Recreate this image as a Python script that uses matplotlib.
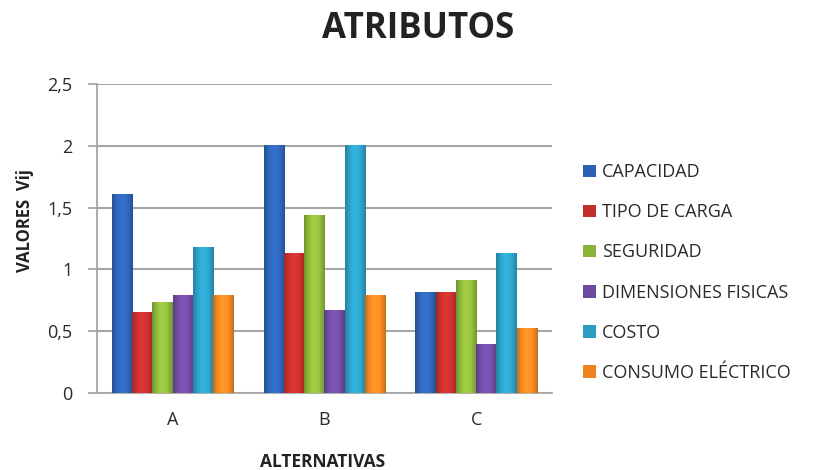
import numpy as np
import matplotlib.pyplot as plt
from matplotlib.colors import to_rgb

plt.rcParams['font.family'] = ['Open Sans', 'DejaVu Sans']

alternativas = ['A', 'B', 'C']
series = ['CAPACIDAD', 'TIPO DE CARGA', 'SEGURIDAD', 'DIMENSIONES FISICAS',
          'COSTO', 'CONSUMO ELÉCTRICO']
capacidad = [1.61, 2.0, 0.81]
tipo_carga = [0.65, 1.13, 0.81]
seguridad = [0.73, 1.44, 0.91]
dimensiones = [0.79, 0.67, 0.39]
costo = [1.18, 2.0, 1.13]
consumo = [0.79, 0.79, 0.52]
colores = ['#2d62b3', '#c1302c', '#8bb33a', '#6e4a9e', '#2c9cc2', '#ec8420']

valores = [capacidad, tipo_carga, seguridad, dimensiones, costo, consumo]

fig = plt.figure(figsize=(8.34, 4.70), dpi=100)
ax = fig.add_axes([0.116, 0.164, 0.546, 0.657])

x = np.arange(len(alternativas))
n = len(series)
ancho = 0.8 / n

def shade(color):
    # horizontal gradient to give the bars a cylinder look
    c = np.array(to_rgb(color))
    t = np.linspace(0, 1, 64)
    k = 0.55 + 0.6 * np.sin(np.pi * (0.15 + 0.7 * t))
    k = np.clip(k, 0, 1.15)
    rgb = np.clip(c[None, :] * k[:, None], 0, 1)
    return rgb[None, :, :]

for i, (nombre, vals, col) in enumerate(zip(series, valores, colores)):
    pos = x - 0.4 + ancho * (i + 0.5)
    bars = ax.bar(pos, vals, width=ancho, color=col, label=nombre,
                  edgecolor='none', zorder=3)
    for b in bars:
        x0, w, h = b.get_x(), b.get_width(), b.get_height()
        ax.imshow(shade(col), extent=[x0, x0 + w, 0, h], aspect='auto',
                  zorder=4, interpolation='bilinear')

ax.set_xlim(-0.5, 2.5)
ax.set_ylim(0, 2.5)
ax.set_yticks([0, 0.5, 1, 1.5, 2, 2.5])
ax.set_yticklabels(['0', '0,5', '1', '1,5', '2', '2,5'])
ax.set_xticks(x)
ax.set_xticklabels(alternativas)
ax.tick_params(axis='both', labelsize=13, colors='#2a2a2a')
ax.tick_params(axis='x', length=0, pad=13)
ax.tick_params(axis='y', length=6.5, color='#a0a0a0', width=1.2, pad=11)

ax.grid(axis='y', color='#a6a6a6', linewidth=1.5, zorder=0)
ax.set_axisbelow(True)
for s in ['top', 'right']:
    ax.spines[s].set_visible(False)
ax.spines['left'].set_color('#a6a6a6')
ax.spines['left'].set_linewidth(1.3)
ax.spines['bottom'].set_color('#a6a6a6')
ax.spines['bottom'].set_linewidth(1.3)

fig.text(0.030, 1 - 221 / 470, 'VALORES  Vij', rotation=90, ha='center',
         va='center', fontsize=12, fontweight='bold', color='#222222')
fig.text(323 / 834, 1 - 462 / 470, 'ALTERNATIVAS', ha='center', va='center',
         fontsize=12.5, fontweight='bold', color='#222222')
fig.text(418 / 834, 1 - 29 / 470, 'ATRIBUTOS', ha='center', va='center',
         fontsize=25, fontweight='bold', color='#222222')

ax.legend(loc='center left', bbox_to_anchor=(1.068, 0.39), frameon=False,
          fontsize=13, handlelength=0.7, handleheight=0.7, handletextpad=0.35,
          labelspacing=1.22, borderpad=0, borderaxespad=0,
          labelcolor='#2a2a2a')

fig.savefig('out.png', dpi=100)
